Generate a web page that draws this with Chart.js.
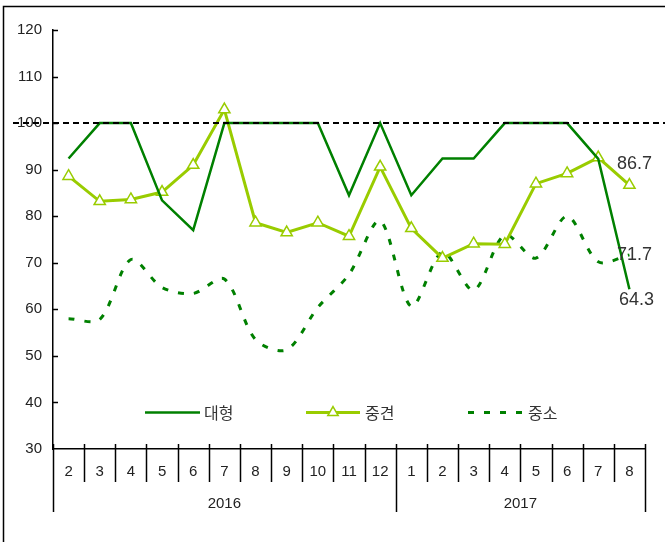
<!DOCTYPE html>
<html>
<head>
<meta charset="utf-8">
<script src="https://cdn.jsdelivr.net/npm/chart.js@4"></script>
<style>
  html, body { margin: 0; padding: 0; background: #fff; }
  #wrap { width: 665px; height: 542px; position: relative; }
</style>
</head>
<body>
<div id="wrap"><canvas id="lineChart" width="665" height="542"></canvas></div>
<script>
// Months on the x-axis, grouped by year
const months = ['2', '3', '4', '5', '6', '7', '8', '9', '10', '11', '12', '1', '2', '3', '4', '5', '6', '7', '8'];
const years = ['2016', '2017'];
const yearSpans = [11, 8]; // number of months under each year

// Series values
const large = [92.4, 100, 100, 83.4, 77.0, 100, 100, 100, 100, 84.5, 100, 84.5, 92.4, 92.4, 100, 100, 100, 92.3, 64.3];
const midsize = [88.6, 83.2, 83.6, 85.2, 91.0, 102.9, 78.6, 76.5, 78.6, 75.7, 90.6, 77.4, 71.0, 74.1, 74.0, 87.0, 89.2, 92.6, 86.7];
const smallMid = [58.0, 57.8, 70.7, 64.7, 63.4, 66.5, 53.5, 51.3, 60.4, 67.5, 79.0, 60.6, 72.3, 64.1, 76.0, 71.0, 80.0, 70.2, 71.7];

const seriesNames = ['대형', '중견', '중소'];
const refValue = 100;
const yMin = 30, yMax = 120, yStep = 10;

const darkGreen = '#008000';
const lightGreen = '#99cc00';
const axisFont = '15px "Liberation Sans", Arial, sans-serif';

// extra drawing: frame, inner ticks, month/year dividers, legend, reference line, end labels
const decorations = {
    id: 'decorations',
    beforeDraw(chart) {
        const c = chart.ctx;
        c.save();
        c.strokeStyle = '#000';
        c.lineWidth = 1.5;
        c.beginPath();
        c.moveTo(3.5, chart.height);
        c.lineTo(3.5, 6.5);
        c.lineTo(chart.width, 6.5);
        c.stroke();
        c.restore();
    },
    afterDraw(chart) {
        const c = chart.ctx;
        const x = chart.scales.x, y = chart.scales.y;
        const area = chart.chartArea;
        c.save();
        c.strokeStyle = '#000';
        c.lineWidth = 1.5;

        // y ticks pointing inwards
        for (let v = yMin + yStep; v <= yMax; v += yStep) {
            const py = Math.round(y.getPixelForValue(v)) + 0.5;
            c.beginPath();
            c.moveTo(area.left, py);
            c.lineTo(area.left + 5, py);
            c.stroke();
        }

        // month dividers and year dividers
        const edge = (i) => {
            if (i === 0) return area.left;
            if (i === months.length) return area.right;
            return (x.getPixelForTick(i - 1) + x.getPixelForTick(i)) / 2;
        };
        const yearEdges = [0];
        yearSpans.forEach((n, k) => yearEdges.push(yearEdges[k] + n));
        for (let i = 0; i <= months.length; i++) {
            const px = Math.round(edge(i)) + 0.5;
            const isYear = yearEdges.includes(i);
            c.beginPath();
            c.moveTo(px, area.bottom - 5);
            c.lineTo(px, isYear ? area.bottom + 63 : area.bottom + 33);
            c.stroke();
        }

        // year labels
        c.fillStyle = '#222';
        c.font = axisFont;
        c.textAlign = 'center';
        c.textBaseline = 'middle';
        years.forEach((yr, k) => {
            const cx = (edge(yearEdges[k]) + edge(yearEdges[k + 1])) / 2;
            c.fillText(yr, cx, area.bottom + 55);
        });

        // reference line at 100
        const ry = y.getPixelForValue(refValue);
        c.setLineDash([6, 4]);
        c.lineWidth = 2;
        c.beginPath();
        c.moveTo(13, ry);
        c.lineTo(chart.width, ry);
        c.stroke();
        c.setLineDash([]);

        // legend
        const legendY = 412.5;
        const items = [
            { x0: 145, x1: 200, tx: 204 },
            { x0: 306, x1: 360, tx: 365 },
            { x0: 468, x1: 522, tx: 528 },
        ];
        chart.data.datasets.forEach((ds, i) => {
            const it = items[i];
            c.strokeStyle = ds.borderColor;
            c.lineWidth = ds.borderWidth;
            c.setLineDash(ds.borderDash || []);
            c.beginPath();
            c.moveTo(it.x0, legendY);
            c.lineTo(it.x1, legendY);
            c.stroke();
            c.setLineDash([]);
            if (ds.pointStyle === 'triangle') {
                const r = 6, mx = (it.x0 + it.x1) / 2;
                c.fillStyle = ds.pointBackgroundColor;
                c.strokeStyle = ds.pointBorderColor;
                c.lineWidth = ds.pointBorderWidth;
                c.beginPath();
                c.moveTo(mx, legendY - r);
                c.lineTo(mx + r * 0.866, legendY + r / 2);
                c.lineTo(mx - r * 0.866, legendY + r / 2);
                c.closePath();
                c.fill();
                c.stroke();
            }
            c.fillStyle = '#333';
            c.font = '16px "Noto Sans CJK KR", sans-serif';
            c.textAlign = 'left';
            c.textBaseline = 'middle';
            c.fillText(ds.label, it.tx, legendY);
        });

        // labels on the last point of each series
        const offsets = [[7, 11], [5, -21], [5, 0]];
        const last = months.length - 1;
        c.font = '18px "Liberation Sans", Arial, sans-serif';
        c.fillStyle = '#333';
        c.textAlign = 'center';
        c.textBaseline = 'middle';
        chart.data.datasets.forEach((ds, i) => {
            const v = ds.data[last];
            const px = x.getPixelForTick(last) + offsets[i][0];
            const py = y.getPixelForValue(v) + offsets[i][1];
            c.fillText(v.toFixed(1), px, py);
        });
        c.restore();
    },
};

const ctx = document.getElementById('lineChart').getContext('2d');
const lineChart = new Chart(ctx, {
    type: 'line',
    data: {
        labels: months,
        datasets: [
            {
                label: seriesNames[0],
                data: large,
                borderColor: darkGreen,
                borderWidth: 2.5,
                pointRadius: 0,
                tension: 0,
            },
            {
                label: seriesNames[1],
                data: midsize,
                borderColor: lightGreen,
                borderWidth: 3,
                pointStyle: 'triangle',
                pointRadius: 6.5,
                pointBackgroundColor: '#fff',
                pointBorderColor: lightGreen,
                pointBorderWidth: 1.5,
                tension: 0,
            },
            {
                label: seriesNames[2],
                data: smallMid,
                borderColor: darkGreen,
                borderWidth: 3,
                borderDash: [6, 10],
                pointRadius: 0,
                tension: 0.3,
            },
        ],
    },
    options: {
        responsive: false,
        animation: false,
        layout: { padding: { top: 30, right: 20, left: 0, bottom: 0 } },
        plugins: {
            legend: { display: false },
            tooltip: { enabled: false },
        },
        scales: {
            x: {
                offset: true,
                grid: { display: false, offset: true, drawTicks: false },
                border: { display: true, color: '#000', width: 1.5 },
                ticks: { color: '#222', font: { family: '"Liberation Sans", Arial, sans-serif', size: 15 }, padding: 14, maxRotation: 0, autoSkip: false },
                afterFit: (scale) => { scale.height = 93; },
            },
            y: {
                min: yMin,
                max: yMax,
                grid: { display: false, drawTicks: false },
                border: { display: true, color: '#000', width: 1.5 },
                ticks: { stepSize: yStep, color: '#222', font: { family: '"Liberation Sans", Arial, sans-serif', size: 15 }, padding: 11 },
                afterFit: (scale) => { scale.width = 53; },
            },
        },
    },
    plugins: [decorations],
});
</script>
</body>
</html>
